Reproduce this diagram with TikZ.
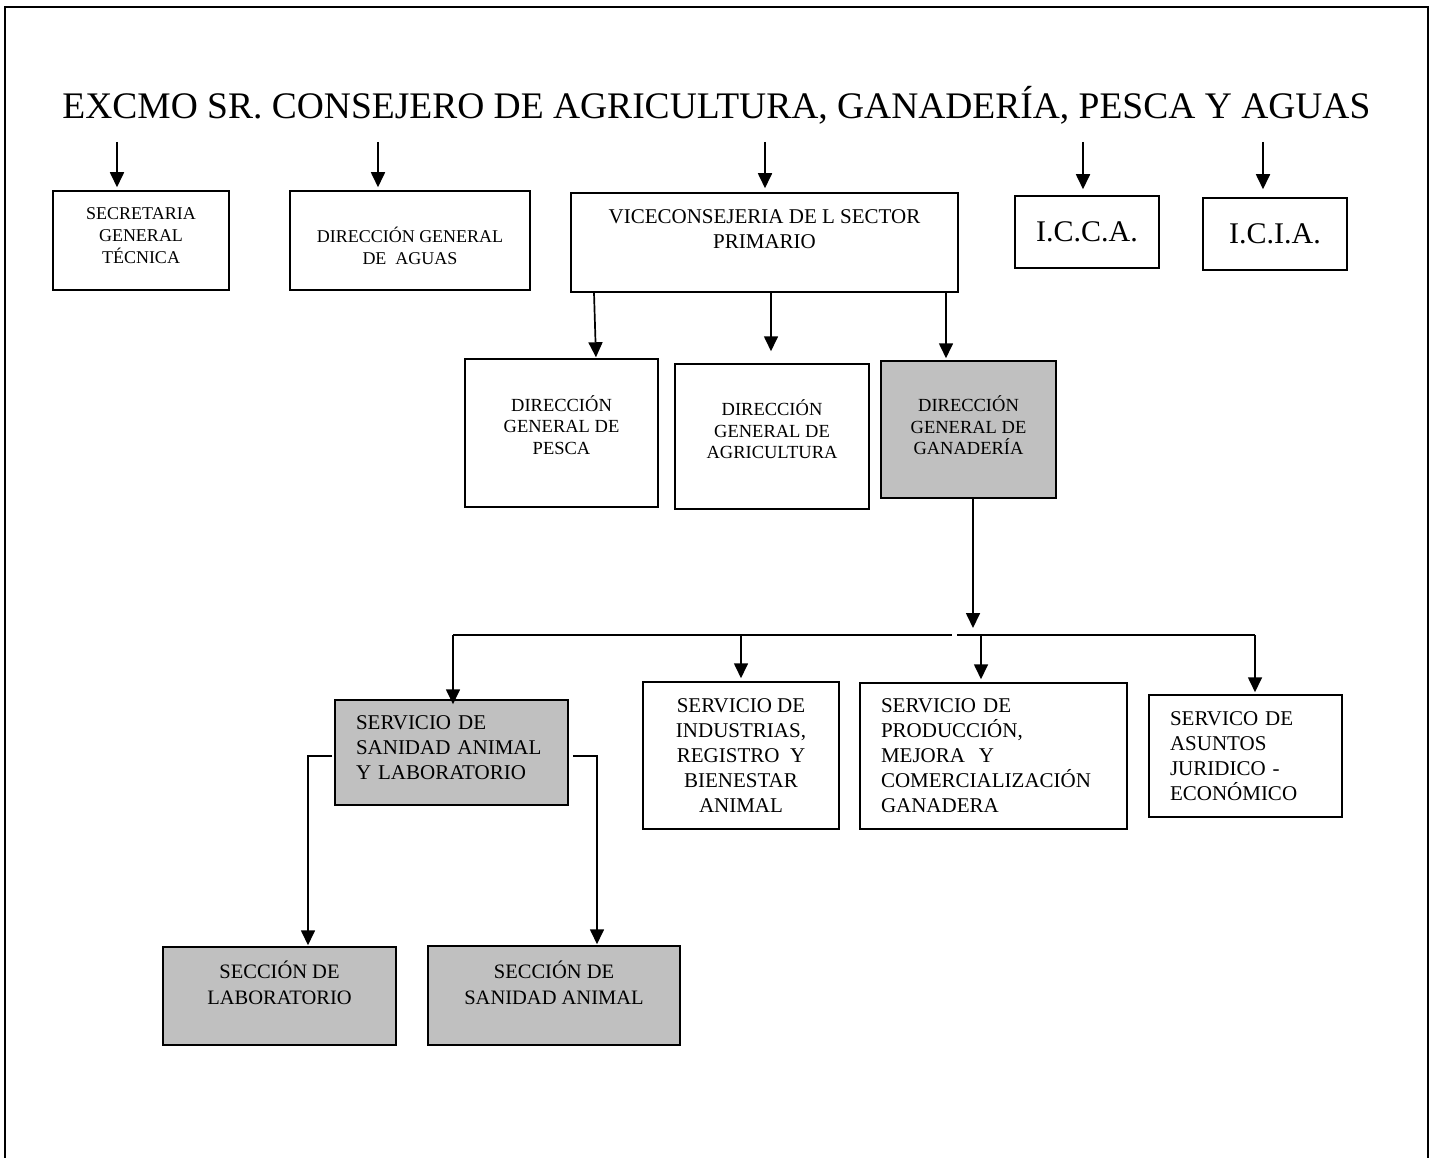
\documentclass[tikz,border=0pt]{standalone}
\usepackage{fontspec}
\setmainfont{Liberation Serif}
\usetikzlibrary{arrows.meta}
\definecolor{boxgray}{RGB}{192,192,192}
\tikzset{
  box/.style={draw, line width=1.5pt, inner sep=0pt, align=center},
  grey/.style={box, fill=boxgray},
  txt/.style={inner sep=0pt, align=center},
  arr/.style={line width=1.7pt, -{Triangle[length=15pt, width=14pt]}},
  link/.style={line width=1.7pt},
  fa/.style={font=\fontsize{18}{22}\selectfont},
  fd/.style={font=\fontsize{18.5}{21.5}\selectfont},
  fb/.style={font=\fontsize{21}{25}\selectfont},
  fc/.style={font=\fontsize{30}{36}\selectfont},
}
\begin{document}
\begin{tikzpicture}[x=1pt, y=-1pt]
  \useasboundingbox (0,0) rectangle (1435,1158);
  \draw[line width=1.5pt] (5,1158) -- (5,7) -- (1428,7) -- (1428,1158);

  \node[font=\fontsize{37.5}{45}\selectfont, inner sep=0pt, anchor=base] (title) at (716.5,119)
    {EXCMO SR. CONSEJERO DE AGRICULTURA, GANADERÍA, PESCA Y AGUAS};

  % primera fila
  \node[box, minimum width=176pt, minimum height=99pt] (sgt) at (141,240.5) {};
  \node[txt, fa] (sgttxt) at ([yshift=5pt]sgt.center) {SECRETARIA\\GENERAL\\TÉCNICA};
  \node[box, minimum width=240pt, minimum height=99pt] (dga) at (410,240.5) {};
  \node[txt, fa] (dgatxt) at ([yshift=-5pt]dga.center) {DIRECCIÓN GENERAL\\DE~ AGUAS};
  \node[box, minimum width=387pt, minimum height=99pt] (vice) at (764.5,242.5) {};
  \node[txt, fb] (vicetxt) at ([yshift=13.5pt]vice.center) {VICECONSEJERIA DE L SECTOR\\PRIMARIO};
  \node[box, fc, minimum width=144pt, minimum height=72pt] (icca) at (1087,232) {I.C.C.A.};
  \node[box, fc, minimum width=144pt, minimum height=72pt] (icia) at (1275,234) {I.C.I.A.};

  \coordinate (t1) at (117,142);
  \coordinate (t2) at (378,142);
  \coordinate (t3) at (765,142);
  \coordinate (t4) at (1083,142);
  \coordinate (t5) at (1263,142);
  \draw[arr, shorten >=3pt] (t1) -- (t1 |- sgt.north);
  \draw[arr, shorten >=3pt] (t2) -- (t2 |- dga.north);
  \draw[arr, shorten >=4pt] (t3) -- (t3 |- vice.north);
  \draw[arr, shorten >=6pt] (t4) -- (t4 |- icca.north);
  \draw[arr, shorten >=8pt] (t5) -- (t5 |- icia.north);

  % direcciones generales
  \node[box, minimum width=193pt, minimum height=148pt] (pesca) at (561.5,433) {};
  \node[txt, fd] (pescatxt) at ([yshift=8pt]pesca.center) {DIRECCIÓN\\GENERAL DE\\PESCA};
  \node[box, minimum width=194pt, minimum height=145pt] (agri) at (772,436.5) {};
  \node[txt, fd] (agritxt) at ([yshift=7pt]agri.center) {DIRECCIÓN\\GENERAL DE\\AGRICULTURA};
  \node[grey, minimum width=175pt, minimum height=137pt] (gan) at (968.5,429.5) {};
  \node[txt, fd] (gantxt) at ([yshift=4pt]gan.center) {DIRECCIÓN\\GENERAL DE\\GANADERÍA};

  \draw[arr, shorten >=1pt] ([xshift=-170.5pt]vice.south) -- ([xshift=34.5pt]pesca.north);
  \draw[arr, shorten >=12pt] ([xshift=6.5pt]vice.south) -- ([xshift=-1pt]agri.north);
  \draw[arr, shorten >=2pt] ([xshift=181.5pt]vice.south) -- ([xshift=-22.5pt]gan.north);

  % servicios
  \node[grey, minimum width=233pt, minimum height=105pt] (san) at (451.5,752.5) {};
  \node[txt, fb, align=left, text width=191pt] (santxt) at ([yshift=5pt]san.center) {SERVICIO DE\\SANIDAD ANIMAL\\Y LABORATORIO};
  \node[box, fb, minimum width=196pt, minimum height=147pt] (ind) at (741,755.5) {SERVICIO DE\\INDUSTRIAS,\\REGISTRO~ Y\\BIENESTAR\\ANIMAL};
  \node[box, fb, align=left, text width=225pt, inner xsep=21pt, minimum height=146pt] (prod) at (993.5,756) {SERVICIO DE\\PRODUCCIÓN,\\MEJORA~ Y\\COMERCIALIZACIÓN\\GANADERA};
  \node[box, fb, align=left, text width=151pt, inner xsep=21pt, minimum height=122pt] (asu) at (1245.5,756) {SERVICO DE\\ASUNTOS\\JURIDICO -\\ECONÓMICO};

  \coordinate (bus) at (973,635);
  \coordinate (b1) at (453,635);
  \coordinate (b2) at (741,635);
  \coordinate (b3) at (981,635);
  \coordinate (b4) at (1255,635);
  \coordinate (g1) at (952,635);
  \coordinate (g2) at (957,635);
  \draw[arr, shorten >=7pt] ([xshift=4.5pt]gan.south) -- (bus);
  \draw[link] (b1) -- (g1);
  \draw[link] (g2) -- (b4);
  \draw[arr, shorten >=-5pt] (b1) -- (b1 |- san.north);
  \draw[arr, shorten >=3pt] (b2) -- (b2 |- ind.north);
  \draw[arr, shorten >=3pt] (b3) -- (b3 |- prod.north);
  \draw[arr, shorten >=2pt] (b4) -- (b4 |- asu.north);

  % secciones
  \node[grey, minimum width=233pt, minimum height=98pt] (lab) at (279.5,996) {};
  \node[txt, font=\fontsize{20.5}{26}\selectfont] (labtxt) at ([yshift=13pt]lab.center) {SECCIÓN DE\\LABORATORIO};
  \node[grey, minimum width=252pt, minimum height=99pt] (ssa) at (554,995.5) {};
  \node[txt, font=\fontsize{20.5}{26}\selectfont] (ssatxt) at ([yshift=13pt]ssa.center) {SECCIÓN DE\\SANIDAD ANIMAL};

  \draw[arr, shorten >=1pt] ([xshift=-2pt, yshift=-3.5pt]san.west) -| ([xshift=28.5pt]lab.north);
  \draw[arr, shorten >=1pt] ([xshift=4pt, yshift=-3.5pt]san.east) -| ([xshift=43pt]ssa.north);
\end{tikzpicture}
\end{document}
